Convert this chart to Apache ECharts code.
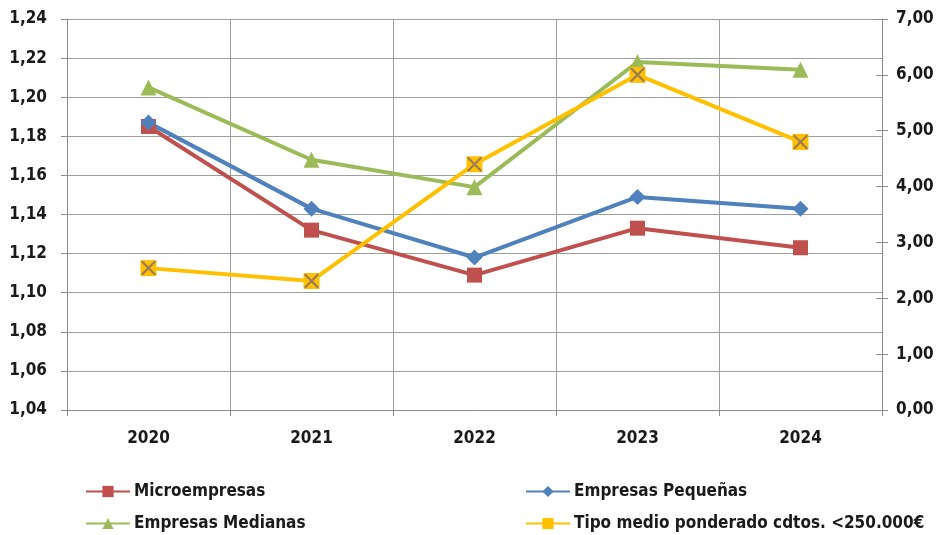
<!DOCTYPE html>
<html>
<head>
<meta charset="utf-8">
<script src="https://cdn.jsdelivr.net/npm/echarts@6/dist/echarts.min.js"></script>
<style>
  html, body { margin: 0; padding: 0; background: #fff; }
  #chart { width: 942px; height: 535px; }
</style>
</head>
<body>
<div id="chart"></div>
<script>
// Years on the category axis
const years = ['2020', '2021', '2022', '2023', '2024'];

// Left axis series (ratio)
const microempresas = [1.185, 1.132, 1.109, 1.133, 1.123];
const pequenas = [1.187, 1.143, 1.118, 1.149, 1.143];
const medianas = [1.205, 1.168, 1.154, 1.218, 1.214];

// Right axis series (%)
const tipoMedio = [2.54, 2.31, 4.40, 6.00, 4.80];

// Axis ranges
const leftAxis = { min: 1.04, max: 1.24, step: 0.02 };
const rightAxis = { min: 0, max: 7, step: 1 };

const FONT = '"DejaVu Sans Condensed", "DejaVu Sans", sans-serif';
const AXIS_GRAY = '#8c8c8c';
const GRID_GRAY = '#9e9e9e';

const comma = (v, d) => v.toFixed(d).replace('.', ',');

// Square marker with a thin cross inside
const crossPath = 'path://M0,1 L1,0 L10,9 L9,10 Z M9,0 L10,1 L1,10 L0,9 Z';

function lineSeries(name, data, color, symbol, size, yAxisIndex) {
  return {
    name, type: 'line', data, yAxisIndex,
    symbol, symbolSize: size,
    lineStyle: { color, width: 4 },
    itemStyle: { color },
    emphasis: { disabled: true },
    z: 2
  };
}

const chart = echarts.init(document.getElementById('chart'), null, { renderer: 'canvas' });

const legendBase = {
  itemWidth: 44, itemHeight: 14, itemGap: 0,
  textStyle: { fontFamily: FONT, fontSize: 17, fontWeight: 'bold', color: '#1a1a1a', padding: [0, 0, 0, -1] },
  selectedMode: false, padding: 0
};

const labelStyle = { fontFamily: FONT, fontSize: 17, fontWeight: 'bold', color: '#1a1a1a' };

chart.setOption({
  animation: false,
  grid: { left: 67, right: 60, top: 19, bottom: 125 },
  legend: [
    Object.assign({ data: ['Microempresas'], left: 85, top: 483 }, legendBase),
    Object.assign({ data: ['Empresas Pequeñas'], left: 525, top: 483 }, legendBase),
    Object.assign({ data: ['Empresas Medianas'], left: 85, top: 515 }, legendBase),
    Object.assign({ data: ['Tipo medio ponderado cdtos. <250.000€'], left: 525, top: 515 }, legendBase)
  ],
  xAxis: {
    type: 'category', data: years, boundaryGap: true,
    axisLine: { lineStyle: { color: AXIS_GRAY, width: 1 } },
    axisTick: { show: true, length: 6, lineStyle: { color: AXIS_GRAY } },
    splitLine: { show: true, lineStyle: { color: GRID_GRAY, width: 1 } },
    axisLabel: Object.assign({ margin: 20 }, labelStyle)
  },
  yAxis: [
    {
      type: 'value', position: 'left',
      min: leftAxis.min, max: leftAxis.max, interval: leftAxis.step,
      axisLine: { show: true, lineStyle: { color: AXIS_GRAY } },
      axisTick: { show: true, length: 6, lineStyle: { color: AXIS_GRAY } },
      splitLine: { show: true, lineStyle: { color: GRID_GRAY, width: 1 } },
      axisLabel: Object.assign({ margin: 20, formatter: v => comma(v, 2) }, labelStyle)
    },
    {
      type: 'value', position: 'right',
      min: rightAxis.min, max: rightAxis.max, interval: rightAxis.step,
      axisLine: { show: true, lineStyle: { color: AXIS_GRAY } },
      axisTick: { show: true, length: 6, lineStyle: { color: AXIS_GRAY } },
      splitLine: { show: false },
      axisLabel: Object.assign({ margin: 14, formatter: v => comma(v, 2) }, labelStyle)
    },
    {
      // inner half of the crossing ticks on the right axis
      type: 'value', position: 'right',
      min: rightAxis.min, max: rightAxis.max, interval: rightAxis.step,
      axisLine: { show: false },
      axisTick: { show: true, inside: true, length: 6, lineStyle: { color: AXIS_GRAY } },
      splitLine: { show: false },
      axisLabel: { show: false }
    }
  ],
  series: [
    lineSeries('Microempresas', microempresas, '#c0504d', 'rect', 15, 0),
    lineSeries('Empresas Pequeñas', pequenas, '#4f81bd', 'diamond', 16, 0),
    lineSeries('Empresas Medianas', medianas, '#9bbb59', 'triangle', 16, 0),
    lineSeries('Tipo medio ponderado cdtos. <250.000€', tipoMedio, '#ffc000', 'rect', 16, 1),
    {
      // cross drawn over the square markers of the rate series
      name: 'cross', type: 'line', data: tipoMedio, yAxisIndex: 1,
      symbol: crossPath, symbolSize: 15,
      lineStyle: { opacity: 0 },
      itemStyle: { color: '#9c7a5a' },
      emphasis: { disabled: true },
      z: 3, silent: true
    }
  ]
});
</script>
</body>
</html>
